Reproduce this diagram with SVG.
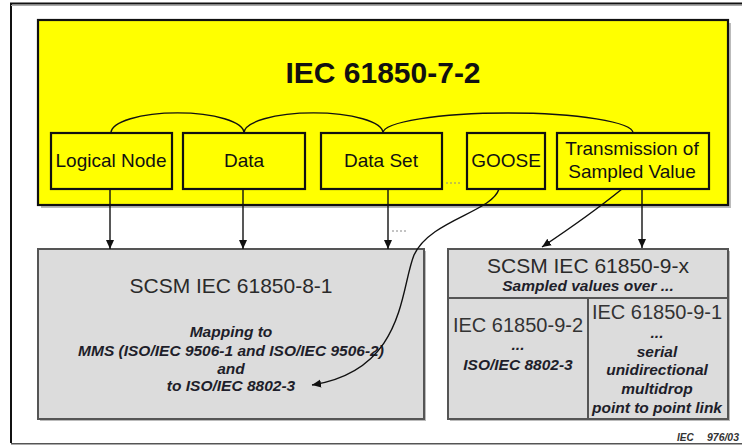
<svg xmlns="http://www.w3.org/2000/svg" width="742" height="445" viewBox="0 0 742 445">
<style>
text{font-family:"Liberation Sans",Arial,sans-serif;}
.lbl{font-size:19px;fill:#111;text-anchor:middle;}
.ybox{fill:#ffff00;stroke:#111;stroke-width:2.2;}
.gbox{fill:#dcdcdc;stroke:#555;stroke-width:2;}
.shadow{fill:#bbb;}
.gt{font-size:21px;fill:#2a2a2a;text-anchor:middle;}
.gt2{font-size:20px;fill:#333;text-anchor:middle;}
.bi{font-size:15.5px;font-weight:bold;font-style:italic;fill:#1e1e2a;text-anchor:middle;}
.ln{fill:none;stroke:#111;stroke-width:1.4;}
.dot{fill:none;stroke:#888;stroke-width:1;stroke-dasharray:2 2;}
.ref{font-size:10px;font-weight:bold;font-style:italic;fill:#333;}
</style>
<defs>
<marker id="ah" markerWidth="10" markerHeight="10" refX="9" refY="5" orient="auto" markerUnits="userSpaceOnUse">
<path d="M0,1 L9,5 L0,9 Z" fill="#111"/>
</marker>
</defs>
<rect x="0" y="0" width="742" height="445" fill="#fff"/>
<path d="M11,443 L11,3.5 L742,3.5" fill="none" stroke="#111" stroke-width="2"/>
<line x1="11" y1="5.5" x2="742" y2="5.5" stroke="#aaa" stroke-width="1"/>
<line x1="11" y1="443.8" x2="742" y2="443.8" stroke="#555" stroke-width="1.5"/>

<g id="iec-61850-7-2">
<rect class="shadow" x="41" y="23" width="690" height="185"/>
<rect class="ybox" x="38" y="20" width="690" height="185"/>
<text x="383" y="83" font-size="30" font-weight="bold" fill="#111" text-anchor="middle">IEC 61850-7-2</text>
</g>

<g id="logical-node">
<rect class="ybox" x="51" y="133" width="121" height="56"/>
<text class="lbl" x="111" y="167">Logical Node</text>
</g>
<g id="data">
<rect class="ybox" x="183" y="133" width="122" height="56"/>
<text class="lbl" x="244" y="167">Data</text>
</g>
<g id="data-set">
<rect class="ybox" x="321" y="133" width="121" height="56"/>
<text class="lbl" x="381" y="167">Data Set</text>
</g>
<g id="goose">
<rect class="ybox" x="467" y="133" width="78" height="56"/>
<text class="lbl" x="506" y="167">GOOSE</text>
</g>
<g id="transmission">
<rect class="ybox" x="557" y="133" width="152" height="56"/>
<text class="lbl" x="632" y="155">Transmission of</text>
<text class="lbl" x="632" y="178">Sampled Value</text>
</g>

<g id="scsm-8-1">
<rect class="shadow" x="40" y="251" width="386" height="170" fill="#e4e4e4"/>
<rect class="gbox" x="38" y="249" width="386" height="170"/>
<text class="gt" x="231" y="293">SCSM IEC 61850-8-1</text>
<text class="bi" x="231" y="337">Mapping to</text>
<text class="bi" x="231" y="356">MMS (ISO/IEC 9506-1 and ISO/IEC 9506-2)</text>
<text class="bi" x="231" y="374">and</text>
<text class="bi" x="231" y="391">to ISO/IEC 8802-3</text>
</g>

<g id="scsm-9-x">
<rect class="shadow" x="450" y="251" width="280" height="170" fill="#e4e4e4"/>
<rect class="gbox" x="448" y="249" width="280" height="170"/>
<line x1="448" y1="298" x2="728" y2="298" stroke="#555" stroke-width="2"/>
<line x1="588" y1="298" x2="588" y2="419" stroke="#555" stroke-width="2"/>
<text class="gt" x="588" y="273">SCSM IEC 61850-9-x</text>
<text class="bi" x="588" y="291">Sampled values over ...</text>
</g>
<g id="iec-9-2">
<text class="gt2" x="518" y="332">IEC 61850-9-2</text>
<text class="bi" x="518" y="350">...</text>
<text class="bi" x="518" y="370">ISO/IEC 8802-3</text>
</g>
<g id="iec-9-1">
<text class="gt2" x="657" y="319">IEC 61850-9-1</text>
<text class="bi" x="657" y="338">...</text>
<text class="bi" x="657" y="357">serial</text>
<text class="bi" x="657" y="375">unidirectional</text>
<text class="bi" x="657" y="394">multidrop</text>
<text class="bi" x="657" y="413">point to point link</text>
</g>

<g id="connectors">
<path class="ln" d="M111,133 A66,20 0 0 1 244,133"/>
<path class="ln" d="M244,133 A69,20 0 0 1 383,133"/>
<path class="ln" d="M383,133 A125,20 0 0 1 633,133"/>
<line class="ln" x1="110" y1="189" x2="110" y2="249" marker-end="url(#ah)"/>
<line class="ln" x1="243" y1="189" x2="243" y2="249" marker-end="url(#ah)"/>
<line class="ln" x1="388" y1="189" x2="388" y2="249" marker-end="url(#ah)"/>
<line class="ln" x1="642" y1="189" x2="642" y2="248" marker-end="url(#ah)"/>
<path class="ln" d="M622,189 Q590,215 542,247" marker-end="url(#ah)"/>
<path class="ln" d="M499,189 C492,212 430,220 414,255 C400,290 405,370 312,385" marker-end="url(#ah)"/>
<line class="dot" x1="446" y1="183" x2="461" y2="183"/>
<line class="dot" x1="392" y1="231" x2="406" y2="231"/>
</g>

<text class="ref" x="677" y="441">IEC</text>
<text class="ref" x="707" y="441" textLength="32" lengthAdjust="spacingAndGlyphs">976/03</text>
</svg>
